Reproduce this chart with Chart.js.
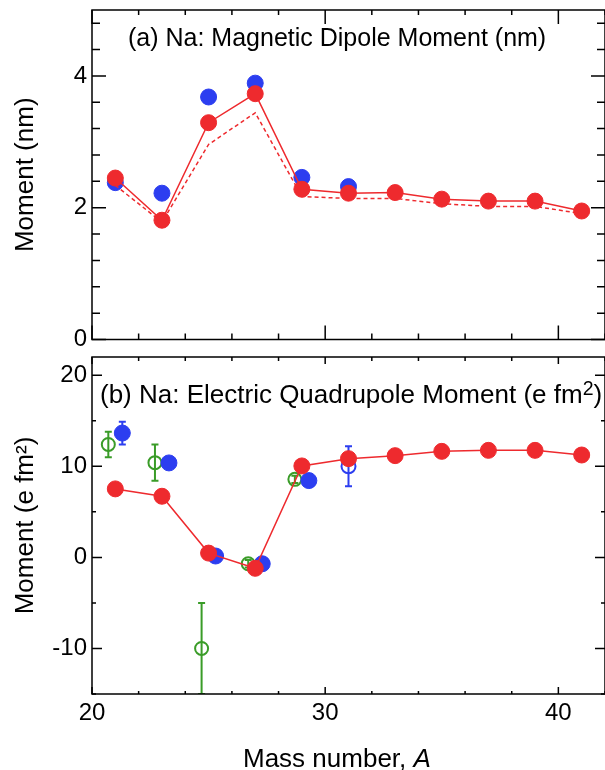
<!DOCTYPE html>
<html>
<head>
<meta charset="utf-8">
<script src="https://cdn.jsdelivr.net/npm/chart.js@4.4.1/dist/chart.umd.min.js"></script>
<style>
  html, body { margin: 0; padding: 0; background: #fff; }
  #wrap { position: relative; width: 605px; height: 770px; overflow: hidden;
          font-family: 'Liberation Sans', Arial, sans-serif; color: #000; }
  canvas { position: absolute; left: 0; }
  .txt { position: absolute; white-space: nowrap; font-size: 25px; line-height: 25px; }
  .sup { font-size: 75%; vertical-align: 0.42em; }
</style>
</head>
<body>
<div id="wrap">
  <canvas id="topChart" width="605" height="350" style="top:0"></canvas>
  <canvas id="bottomChart" width="605" height="420" style="top:350px"></canvas>
  <div class="txt" style="left:128px; top:25px;">(a) Na: Magnetic Dipole Moment (nm)</div>
  <div class="txt" style="left:100px; top:375px; font-size:26px; line-height:26px;">(b) Na: Electric Quadrupole Moment (e fm<span class="sup">2</span>)</div>
  <div class="txt" style="left:243px; top:745px; font-size:26px; line-height:26px;">Mass number, <i>A</i></div>
</div>
<script>
// ---- data ----
const massNumbers = [21, 23, 25, 27, 29, 31, 33, 35, 37, 39, 41];

// (a) magnetic dipole moment (nm)
const muCalc       = [2.45, 1.81, 3.29, 3.73, 2.28, 2.22, 2.23, 2.13, 2.10, 2.10, 1.95];
const muCalcDashed = [2.34, 1.78, 2.96, 3.44, 2.17, 2.14, 2.14, 2.06, 2.02, 2.02, 1.91];
const muExpA = [21, 23, 25, 27, 29, 31];
const muExp  = [2.38, 2.22, 3.68, 3.89, 2.46, 2.32];

// (b) electric quadrupole moment (e fm2)
const qCalc = [7.52, 6.71, 0.47, -1.2, 10.04, 10.84, 11.17, 11.64, 11.75, 11.75, 11.24];
const qBlueA   = [21.3, 23.3, 25.3, 27.3, 29.3];
const qBlue    = [13.65, 10.37, 0.15, -0.7, 8.43];
const qBlueErr = [1.25, 0, 0, 0, 0];
const qBlueOpenA   = [31];
const qBlueOpen    = [10.0];
const qBlueOpenErr = [2.2];
const qGreenA   = [20.7, 22.7, 24.7, 26.7, 28.7];
const qGreen    = [12.4, 10.4, -10.0, -0.7, 8.57];
const qGreenErr = [1.4, 2.0, 5.0, 0.4, 0.4];

// tick labels
const xTicks = [20, 30, 40];
const topYTicks = [0, 2, 4];
const bottomYTicks = [-10, 0, 10, 20];

const RED = '#EE2A2E';
const BLUE = '#2C3EF0';
const GREEN = '#3A9C28';
const FONT = "'Liberation Sans', Arial, sans-serif";

function pts(xs, ys) {
    return xs.map((x, i) => ({ x: x, y: ys[i] }));
}

// frame with inward ticks on all four sides
function framePlugin(cfg) {
    return {
        id: 'frame',
        afterDraw(chart) {
            const { ctx, chartArea: a, scales: { x, y } } = chart;
            ctx.save();
            ctx.strokeStyle = '#000';
            ctx.lineWidth = 1.5;
            ctx.strokeRect(a.left, a.top, a.right - a.left, a.bottom - a.top);
            ctx.beginPath();
            let n = Math.round((x.max - x.min) / cfg.xMinor);
            for (let i = 0; i <= n; i++) {
                const v = x.min + i * cfg.xMinor;
                const major = Math.abs(v / cfg.xMajor - Math.round(v / cfg.xMajor)) < 1e-6;
                const px = x.getPixelForValue(v);
                const lb = major ? cfg.xMajorLen : cfg.xMinorLen;
                const lt = major ? cfg.xMajorLenTop : cfg.xMinorLenTop;
                ctx.moveTo(px, a.bottom); ctx.lineTo(px, a.bottom - lb);
                ctx.moveTo(px, a.top); ctx.lineTo(px, a.top + lt);
            }
            n = Math.round((y.max - y.min) / cfg.yMinor);
            for (let i = 0; i <= n; i++) {
                const v = y.min + i * cfg.yMinor;
                const major = Math.abs(v / cfg.yMajor - Math.round(v / cfg.yMajor)) < 1e-6;
                const py = y.getPixelForValue(v);
                const l = major ? cfg.yMajorLen : cfg.yMinorLen;
                ctx.moveTo(a.left, py); ctx.lineTo(a.left + l, py);
                ctx.moveTo(a.right, py); ctx.lineTo(a.right - l, py);
            }
            ctx.stroke();
            ctx.restore();
        }
    };
}

// vertical error bars with caps, drawn under the markers
function errorBarPlugin(bars) {
    return {
        id: 'errorBars',
        beforeDatasetsDraw(chart) {
            const { ctx, chartArea: a, scales: { x, y } } = chart;
            ctx.save();
            ctx.beginPath();
            ctx.rect(a.left, a.top, a.right - a.left, a.bottom - a.top);
            ctx.clip();
            bars.forEach(b => {
                ctx.strokeStyle = b.color;
                ctx.lineWidth = 2;
                b.xs.forEach((xv, i) => {
                    if (!b.err[i]) return;
                    const px = x.getPixelForValue(xv);
                    const p1 = y.getPixelForValue(b.ys[i] + b.err[i]);
                    const p2 = y.getPixelForValue(b.ys[i] - b.err[i]);
                    ctx.beginPath();
                    ctx.moveTo(px, p1); ctx.lineTo(px, p2);
                    ctx.moveTo(px - 3.5, p1); ctx.lineTo(px + 3.5, p1);
                    ctx.moveTo(px - 3.5, p2); ctx.lineTo(px + 3.5, p2);
                    ctx.stroke();
                });
            });
            ctx.restore();
        }
    };
}

function yScale(min, max, tickVals, title) {
    return {
        type: 'linear', min: min, max: max,
        afterBuildTicks(s) { s.ticks = tickVals.map(v => ({ value: v })); },
        afterFit(s) { s.width = 92; s.paddingTop = 0; s.paddingBottom = 0; },
        grid: { display: false, drawTicks: false },
        border: { display: false },
        ticks: { font: { family: FONT, size: 24 }, color: '#000', padding: 5 },
        title: { display: true, text: title, color: '#000',
                 font: { family: FONT, size: 26 }, padding: { top: 10, bottom: 0 } }
    };
}

const filledPoint = color => ({
    showLine: false, pointRadius: 8, pointBorderWidth: 1,
    pointBackgroundColor: color, pointBorderColor: color
});
const openPoint = (color, r) => ({
    showLine: false, pointRadius: r, pointBorderWidth: 2,
    pointBackgroundColor: 'rgba(0,0,0,0)', pointBorderColor: color
});

// ---- (a) top panel ----
new Chart(document.getElementById('topChart'), {
    type: 'scatter',
    data: {
        datasets: [
            Object.assign({ data: pts(massNumbers, muCalc) }, filledPoint(RED),
                { showLine: true, borderColor: RED, borderWidth: 1.5 }),
            { data: pts(massNumbers, muCalcDashed), showLine: true, borderColor: RED,
              borderWidth: 1.5, borderDash: [4, 3], pointRadius: 0 },
            Object.assign({ data: pts(muExpA, muExp) }, filledPoint(BLUE))
        ]
    },
    options: {
        responsive: false, animation: false, devicePixelRatio: 1,
        layout: { autoPadding: false, padding: { left: 0, right: -1, top: 10, bottom: 10.5 } },
        plugins: { legend: { display: false }, tooltip: { enabled: false } },
        scales: {
            x: { type: 'linear', min: 20, max: 42, display: false },
            y: yScale(0, 5, topYTicks, 'Moment (nm)')
        }
    },
    plugins: [framePlugin({
        xMinor: 2, xMajor: 10, xMajorLen: 14, xMinorLen: 6, xMajorLenTop: 14, xMinorLenTop: 5,
        yMinor: 0.4, yMajor: 2, yMajorLen: 14, yMinorLen: 8
    })]
});

// ---- (b) bottom panel ----
new Chart(document.getElementById('bottomChart'), {
    type: 'scatter',
    data: {
        datasets: [
            Object.assign({ data: pts(massNumbers, qCalc) }, filledPoint(RED),
                { showLine: true, borderColor: RED, borderWidth: 1.5 }),
            Object.assign({ data: pts(qBlueA, qBlue) }, filledPoint(BLUE)),
            Object.assign({ data: pts(qBlueOpenA, qBlueOpen) }, openPoint(BLUE, 7)),
            Object.assign({ data: pts(qGreenA, qGreen) }, openPoint(GREEN, 6.5))
        ]
    },
    options: {
        responsive: false, animation: false, devicePixelRatio: 1,
        layout: { autoPadding: false, padding: { left: 0, right: -1, top: 7, bottom: 0 } },
        plugins: { legend: { display: false }, tooltip: { enabled: false } },
        scales: {
            x: {
                type: 'linear', min: 20, max: 42,
                afterBuildTicks(s) { s.ticks = xTicks.map(v => ({ value: v })); },
                afterFit(s) { s.height = 76; s.paddingLeft = 0; s.paddingRight = 0; },
                grid: { display: false, drawTicks: false },
                border: { display: false },
                ticks: { font: { family: FONT, size: 24 }, color: '#000', padding: 5,
                         maxRotation: 0, autoSkip: false }
            },
            y: yScale(-15, 22, bottomYTicks, 'Moment (e fm²)')
        }
    },
    plugins: [
        errorBarPlugin([
            { xs: qGreenA, ys: qGreen, err: qGreenErr, color: GREEN },
            { xs: qBlueA, ys: qBlue, err: qBlueErr, color: BLUE },
            { xs: qBlueOpenA, ys: qBlueOpen, err: qBlueOpenErr, color: BLUE }
        ]),
        framePlugin({
            xMinor: 2, xMajor: 10, xMajorLen: 7, xMinorLen: 3, xMajorLenTop: 7, xMinorLenTop: 4,
            yMinor: 5, yMajor: 10, yMajorLen: 10, yMinorLen: 4
        })
    ]
});
</script>
</body>
</html>
